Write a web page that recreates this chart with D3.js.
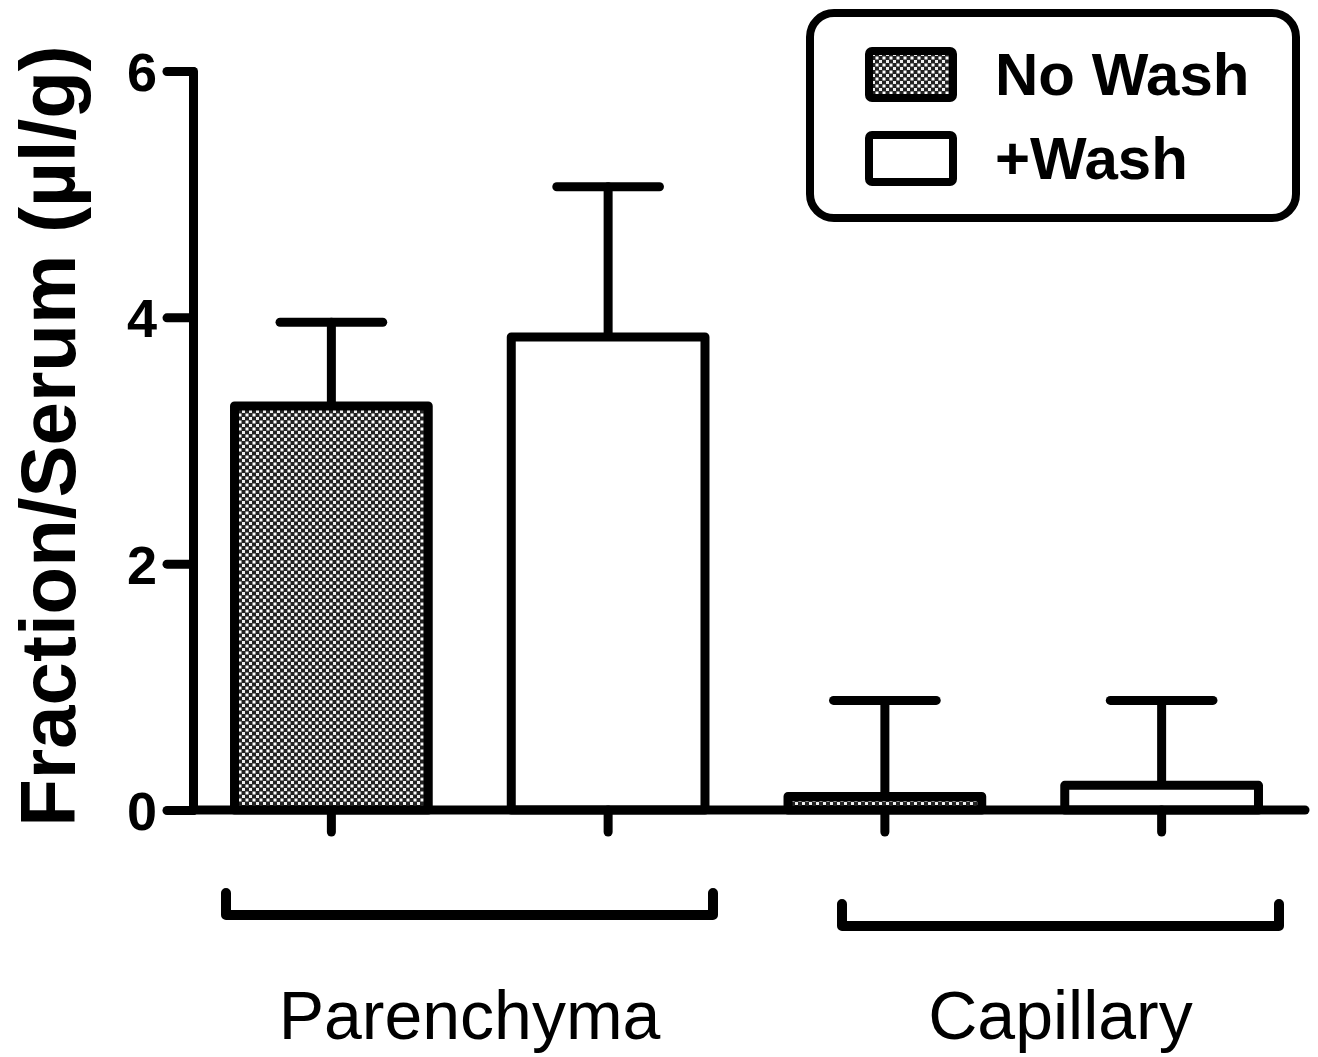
<!DOCTYPE html>
<meta charset="utf-8">
<script src="https://cdnjs.cloudflare.com/ajax/libs/d3/7.8.5/d3.min.js"></script>
<style>
body { margin: 0; background: #fff; }
svg { font-family: "Liberation Sans", Arial, sans-serif; }
.axis path, .axis line { stroke: #000; stroke-width: 9px; stroke-linecap: round; }
.bar { stroke: #000; stroke-width: 9px; stroke-linejoin: round; }
.err { stroke: #000; stroke-width: 9px; stroke-linecap: round; fill: none; }
.bracket { stroke: #000; stroke-width: 10px; stroke-linecap: round; stroke-linejoin: round; fill: none; }
</style>
<body>
<script>

// data
var categories = ["Parenchyma", "Capillary"];
var series = ["No Wash", "+Wash"];
var noWash = [3.28, 0.11],
    noWashErr = [0.68, 0.78];
var plusWash = [3.84, 0.20],
    plusWashErr = [1.22, 0.69];
var yTicks = [0, 2, 4, 6];

var width = 1318,
    height = 1057;

var svg = d3.select("body").append("svg")
    .attr("width", width)
    .attr("height", height);

// hatch for the "No Wash" bars
var pat = svg.append("defs").append("pattern")
    .attr("id", "dots")
    .attr("patternUnits", "userSpaceOnUse")
    .attr("width", 7)
    .attr("height", 7);
pat.append("rect").attr("width", 7).attr("height", 7).attr("fill", "#222");
pat.append("rect").attr("x", 0.5).attr("y", 0.5).attr("width", 3).attr("height", 3).attr("fill", "#fff");
pat.append("rect").attr("x", 4).attr("y", 4).attr("width", 3).attr("height", 3).attr("fill", "#eee");

// one row per bar
var bars = [];
categories.forEach(function(c, i) {
  bars.push({key: c + "|" + series[0], cat: c, s: 0, v: noWash[i], e: noWashErr[i]});
  bars.push({key: c + "|" + series[1], cat: c, s: 1, v: plusWash[i], e: plusWashErr[i]});
});

var x = d3.scaleBand()
    .domain(bars.map(function(d) { return d.key; }))
    .range([193, 1300])
    .paddingInner(0.3)
    .paddingOuter(0.15);

var y = d3.scaleLinear()
    .domain([0, 6])
    .range([810, 71]);

var capW = x.bandwidth() * 0.53;

var g = svg.selectAll("g.b")
    .data(bars)
    .enter().append("g")
    .attr("class", "b");

g.append("line")
    .attr("class", "err")
    .attr("x1", function(d) { return x(d.key) + x.bandwidth() / 2; })
    .attr("x2", function(d) { return x(d.key) + x.bandwidth() / 2; })
    .attr("y1", function(d) { return y(d.v); })
    .attr("y2", function(d) { return y(d.v + d.e); });

g.append("line")
    .attr("class", "err")
    .attr("x1", function(d) { return x(d.key) + x.bandwidth() / 2 - capW / 2; })
    .attr("x2", function(d) { return x(d.key) + x.bandwidth() / 2 + capW / 2; })
    .attr("y1", function(d) { return y(d.v + d.e); })
    .attr("y2", function(d) { return y(d.v + d.e); });

g.append("rect")
    .attr("class", "bar")
    .attr("x", function(d) { return x(d.key); })
    .attr("y", function(d) { return y(d.v); })
    .attr("width", x.bandwidth())
    .attr("height", function(d) { return y(0) - y(d.v); })
    .attr("fill", function(d) { return d.s === 0 ? "url(#dots)" : "#fff"; });

// axes
var yAxis = svg.append("g")
    .attr("class", "axis")
    .attr("transform", "translate(193,0)")
    .call(d3.axisLeft(y).tickValues(yTicks).tickFormat(d3.format("d"))
      .tickSize(26).tickSizeOuter(0).tickPadding(10));
yAxis.selectAll("text")
    .attr("dy", "0.36em")
    .style("font-size", "54px")
    .style("font-weight", "bold")
    .style("font-family", "'Liberation Sans', Arial, sans-serif")
    .attr("fill", "#000");

var xAxis = svg.append("g")
    .attr("class", "axis")
    .attr("transform", "translate(0," + y(0) + ")");
xAxis.append("line").attr("x1", 193).attr("x2", 1305);
xAxis.selectAll("line.t")
    .data(bars)
    .enter().append("line")
    .attr("class", "t")
    .attr("x1", function(d) { return x(d.key) + x.bandwidth() / 2; })
    .attr("x2", function(d) { return x(d.key) + x.bandwidth() / 2; })
    .attr("y1", 0)
    .attr("y2", 22);

// group brackets and labels
var brackets = [
  {x0: 226, x1: 713, y: 915, h: 22},
  {x0: 842, x1: 1279, y: 926, h: 22}
];
brackets.forEach(function(b, i) {
  svg.append("path")
      .attr("class", "bracket")
      .attr("d", "M" + b.x0 + "," + (b.y - b.h) + "V" + b.y + "H" + b.x1 + "V" + (b.y - b.h));
  svg.append("text")
      .attr("x", (b.x0 + b.x1) / 2)
      .attr("y", 1039)
      .attr("text-anchor", "middle")
      .style("font-size", "68px")
      .text(categories[i]);
});

// y label
svg.append("text")
    .attr("transform", "translate(75,436) rotate(-90)")
    .attr("text-anchor", "middle")
    .style("font-size", "78px")
    .style("font-weight", "bold")
    .text("Fraction/Serum (\u00b5l/g)");

// legend
var leg = svg.append("g");
leg.append("rect")
    .attr("x", 810).attr("y", 13)
    .attr("width", 486).attr("height", 205)
    .attr("rx", 24)
    .attr("fill", "#fff")
    .attr("stroke", "#000")
    .attr("stroke-width", 8);

var li = leg.selectAll("g")
    .data(series)
    .enter().append("g")
    .attr("transform", function(d, i) { return "translate(0," + (i * 84) + ")"; });
li.append("rect")
    .attr("x", 869).attr("y", 51)
    .attr("width", 84).attr("height", 47)
    .attr("rx", 3)
    .attr("fill", function(d, i) { return i === 0 ? "url(#dots)" : "#fff"; })
    .attr("stroke", "#000")
    .attr("stroke-width", 8);
li.append("text")
    .attr("x", 995).attr("y", 95)
    .style("font-size", "60px")
    .style("font-weight", "bold")
    .text(function(d) { return d; });

</script>
